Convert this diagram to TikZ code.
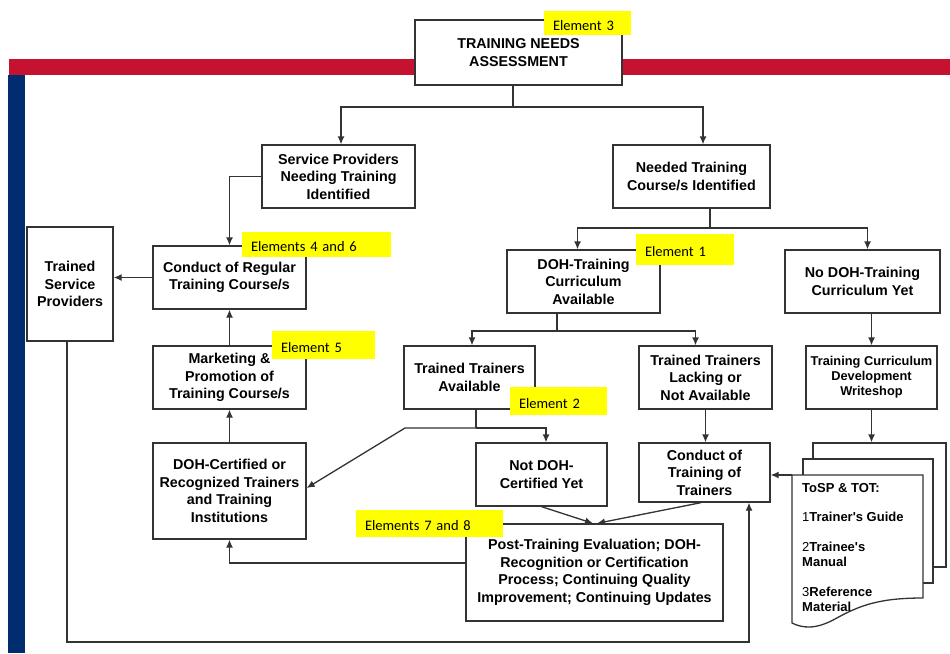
\documentclass[tikz,border=0pt]{standalone}
\usepackage{fontspec}
\setmainfont{Liberation Sans}
\newfontfamily\carlito{Carlito}
\usetikzlibrary{arrows.meta}
\definecolor{barred}{HTML}{C41230}
\definecolor{barblue}{HTML}{002D6F}
\definecolor{hl}{HTML}{FFFF00}
\begin{document}
\begin{tikzpicture}[x=1pt,y=-1pt,
  box/.style={draw=black!80, line width=1.3pt, fill=white, align=center, inner sep=2pt, font=\bfseries\fontsize{14.3}{17.5}\selectfont},
  wh/.style 2 args={minimum width=#1pt, minimum height=#2pt},
  conn/.style={draw=black!80, line width=1.3pt},
  arr/.style={conn, -{Latex[length=8pt,width=7pt]}},
  tag/.style={fill=hl, font=\carlito\fontsize{14.5}{17}\selectfont, align=left, inner xsep=9pt, inner ysep=0pt, text height=14.5pt, text depth=0pt},
  page/.style={draw=black!80, line width=1.3pt, fill=white},
]
\useasboundingbox (0,0) rectangle (950,653);
\fill[white] (0,0) rectangle (950,653);
% bars
\fill[barred] (9,59) rectangle (950,75);
\fill[barblue] (8,75) rectangle (25,653);

% boxes
\node[box, wh={207}{65}] (tna) at (518.5,52.5) {TRAINING NEEDS\\ASSESSMENT};
\node[box, wh={153}{63}] (sp) at (338.5,176.5) {Service Providers\\Needing Training\\Identified};
\node[box, wh={157}{63}] (ntc) at (691.5,176.5) {Needed Training\\Course/s Identified};
\node[box, wh={153}{63}] (crt) at (229.5,277.5) {Conduct of Regular\\Training Course/s};
\node[box, wh={86}{114}] (tsp) at (70,284) {Trained\\Service\\Providers};
\node[box, wh={153}{63}] (mkt) at (229.5,377.5) {Marketing \&\\Promotion of\\Training Course/s};
\node[box, wh={153}{96}] (docert) at (229.5,491) {DOH-Certified or\\Recognized Trainers\\and Training\\Institutions};
\node[box, wh={153}{63}] (dtc) at (583.5,281.5) {DOH-Training\\Curriculum\\Available};
\node[box, wh={155}{63}] (nodoh) at (862.5,281.5) {No DOH-Training\\Curriculum Yet};
\node[box, wh={131}{63}] (tta) at (469.5,377.5) {Trained Trainers\\Available};
\node[box, wh={133}{63}] (ttl) at (705.5,377.5) {Trained Trainers\\Lacking or\\Not Available};
\node[box, wh={131}{63}, font=\bfseries\fontsize{12.8}{15}\selectfont] (ws) at (871.5,377.5) {Training Curriculum\\Development\\Writeshop};
\node[box, wh={131}{63}] (ndc) at (541.5,474.5) {Not DOH-\\Certified Yet};
\node[box, wh={131}{59}] (tot) at (704.5,472.5) {Conduct of\\Training of\\Trainers};
\node[box, wh={257}{97}] (pte) at (594.5,572.5) {Post-Training Evaluation; DOH-\\Recognition or Certification\\Process; Continuing Quality\\Improvement; Continuing Updates};

% document stack
\node[page, wh={133}{124}] (docb) at (879.5,505) {};
\node[page, wh={130}{124}] (docm) at (868,521) {};
\draw[page] (792,475) -- (923,475) -- (923,598)
  .. controls (880,598) and (860,605) .. (835,619)
  .. controls (815,630) and (802,628) .. (792,623) -- cycle;
\coordinate (docf) at (792,475);
\node[anchor=north west, align=left, inner sep=0pt, font=\bfseries\fontsize{13}{15.5}\selectfont] (doctxt) at (802,483)
  {ToSP \& TOT:\\[14pt]{\mdseries 1}Trainer\textquotesingle s Guide\\[14pt]{\mdseries 2}Trainee\textquotesingle s\\Manual\\[14pt]{\mdseries 3}Reference\\Material};

% connectors
\coordinate (j1) at (513,107);
\draw[conn] (tna.south -| j1) -- (j1);
\draw[arr] (j1) -| ([xshift=2.5pt]sp.north);
\draw[arr] (j1) -| ([xshift=11.5pt]ntc.north);
\draw[arr] (sp.west) -| (crt.north);
\draw[arr] (crt.west) -- (crt.west -| tsp.east);
\draw[arr] (mkt.north) -- (crt.south);
\draw[arr] (docert.north) -- (mkt.south);
\draw[arr] ([yshift=9.5pt]pte.west) -| (docert.south);
\coordinate (j6) at (67,642);
\coordinate (j7) at (749,642);
\draw[arr] (tsp.south -| j6) -- (j6) -- (j7) -- (j7 |- tot.south);
\coordinate (j2) at (710,228);
\draw[conn] (ntc.south -| j2) -- (j2);
\draw[arr] (j2) -| ([xshift=-6pt]dtc.north);
\draw[arr] (j2) -| ([xshift=5pt]nodoh.north);
\coordinate (j3) at (557,331);
\draw[conn] (dtc.south -| j3) -- (j3);
\draw[arr] (j3) -| ([xshift=2.5pt]tta.north);
\draw[arr] (j3) -| ([xshift=-10pt]ttl.north);
\draw[arr] (ws.north |- nodoh.south) -- (ws.north);
\draw[arr] (ws.south) -- (ws.south |- docb.north);
\coordinate (j4) at (476,428);
\coordinate (j4b) at (405,428);
\draw[conn] (tta.south -| j4) -- (j4);
\draw[arr] (j4) -| ([xshift=4.5pt]ndc.north);
\draw[arr] (j4) -- (j4b) -- ([yshift=3pt]docert.east);
\draw[arr] (ttl.south) -- (ttl.south |- tot.north);
\draw[arr] (ndc.south) -- ([xshift=-1.5pt]pte.north);
\draw[arr] ([xshift=-3.5pt]tot.south) -- ([xshift=2.5pt]pte.north);
\draw[arr] (docf) -- (docf -| tot.east);

% highlight tags
\node[tag, text width=69pt, minimum height=24pt] (e3) at (587.5,23) {Element 3};
\node[tag, text width=131pt, minimum height=25pt] (e46) at (316.5,244.5) {Elements 4 and 6};
\node[tag, text width=85pt, minimum height=28pt] (e5) at (323.5,345) {Element 5};
\node[tag, text width=80pt, minimum height=31pt] (e1) at (685,249.5) {Element 1};
\node[tag, text width=79pt, minimum height=28pt] (e2) at (558.5,401) {Element 2};
\node[tag, text width=129pt, minimum height=27pt] (e78) at (429.5,523.5) {Elements 7 and 8};
\end{tikzpicture}
\end{document}
